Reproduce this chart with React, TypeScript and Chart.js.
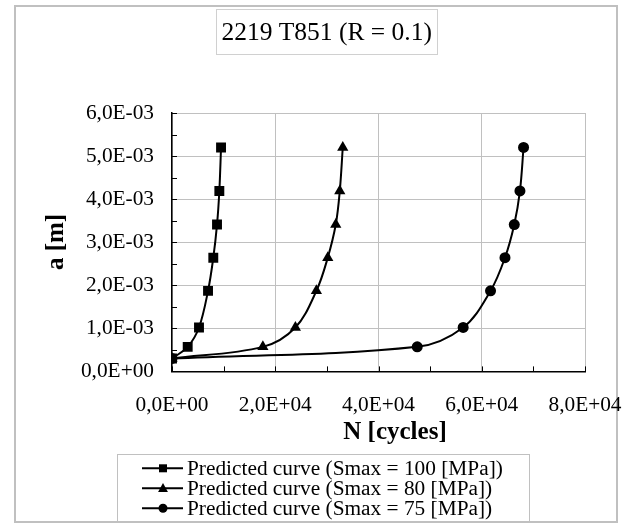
import React, { useEffect, useRef } from "react";
import { Chart, registerables } from "chart.js";

Chart.register(...registerables);

// ---- data ----
const titleText = "2219 T851 (R = 0.1)";
const xAxisTitle = "N [cycles]";
const yAxisTitle = "a [m]";
const seriesLabels = [
  "Predicted curve (Smax = 100 [MPa])",
  "Predicted curve (Smax = 80 [MPa])",
  "Predicted curve (Smax = 75 [MPa])",
];
const crackLength = [0.3e-3, 0.57e-3, 1.02e-3, 1.87e-3, 2.64e-3, 3.41e-3, 4.19e-3, 5.2e-3];
const cycles100 = [0, 3040, 5230, 6980, 8000, 8720, 9170, 9500];
const cycles80 = [0, 17600, 23900, 27970, 30170, 31720, 32500, 33080];
const cycles75 = [0, 47500, 56400, 61700, 64500, 66300, 67400, 68100];
const markerStyles = ["rect", "triangle", "circle"];
const markerRadii = [7, 6.5, 5.5];
const xRange = [0, 80000];
const xStep = 20000;
const xMinorStep = 10000;
const yRange = [0, 6e-3];
const yStep = 1e-3;
const yMinorStep = 0.5e-3;

const SERIF = "'Liberation Serif', 'Times New Roman', serif";

function sci(v: number): string {
  if (Math.abs(v) < 1e-12) return "0,0E+00";
  let e = Math.floor(Math.log10(Math.abs(v)) + 1e-9);
  let ms = (v / Math.pow(10, e)).toFixed(1);
  if (ms === "10.0") {
    e += 1;
    ms = (v / Math.pow(10, e)).toFixed(1);
  }
  const es = (e < 0 ? "-" : "+") + String(Math.abs(e)).padStart(2, "0");
  return ms.replace(".", ",") + "E" + es;
}

function drawMarker(ctx: CanvasRenderingContext2D, style: string, x: number, y: number, s: number) {
  ctx.beginPath();
  if (style === "rect") {
    ctx.rect(x - s / 2, y - s / 2, s, s);
  } else if (style === "triangle") {
    ctx.moveTo(x, y - s * 0.6);
    ctx.lineTo(x + s * 0.55, y + s * 0.4);
    ctx.lineTo(x - s * 0.55, y + s * 0.4);
    ctx.closePath();
  } else {
    ctx.arc(x, y, s / 2, 0, Math.PI * 2);
  }
  ctx.fill();
}

const decorPlugin = {
  id: "decor",
  beforeDraw(chart: any) {
    const ctx = chart.ctx as CanvasRenderingContext2D;
    ctx.save();
    ctx.fillStyle = "#ffffff";
    ctx.fillRect(0, 0, chart.width, chart.height);
    // outer frame
    ctx.strokeStyle = "#c0c0c0";
    ctx.lineWidth = 2;
    ctx.strokeRect(15, 6, 602, 516);
    // title box
    ctx.font = `25.5px ${SERIF}`;
    ctx.textAlign = "center";
    ctx.textBaseline = "middle";
    const tw = ctx.measureText(titleText).width;
    const tcx = 326.7;
    ctx.strokeStyle = "#d0d0d0";
    ctx.lineWidth = 1;
    ctx.strokeRect(Math.round(tcx - tw / 2 - 5) + 0.5, 9.5, Math.round(tw + 10), 45);
    ctx.fillStyle = "#000";
    ctx.fillText(titleText, tcx, 33);
    // axis titles
    ctx.font = `bold 25px ${SERIF}`;
    ctx.fillText(xAxisTitle, 395, 433);
    ctx.save();
    ctx.translate(57, 242);
    ctx.rotate(-Math.PI / 2);
    ctx.fillText(yAxisTitle, 0, 0);
    ctx.restore();
    // legend
    ctx.strokeStyle = "#c0c0c0";
    ctx.lineWidth = 1;
    ctx.strokeRect(117.5, 454.5, 412, 68);
    ctx.font = `21.33px ${SERIF}`;
    ctx.textAlign = "left";
    const rows = [468.3, 488.3, 508.3];
    const legendSizes = [8, 9, 9];
    seriesLabels.forEach((lbl, i) => {
      const y = rows[i];
      ctx.strokeStyle = "#000";
      ctx.lineWidth = 2;
      ctx.beginPath();
      ctx.moveTo(142, y);
      ctx.lineTo(183, y);
      ctx.stroke();
      ctx.fillStyle = "#000";
      drawMarker(ctx, markerStyles[i], 163, y, legendSizes[i]);
      ctx.fillText(lbl, 187, y + 1);
    });
    ctx.restore();
  },
  beforeDatasetsDraw(chart: any) {
    const ctx = chart.ctx as CanvasRenderingContext2D;
    const xs = chart.scales.x;
    const ys = chart.scales.y;
    const { left, bottom } = chart.chartArea;
    ctx.save();
    ctx.strokeStyle = "#000";
    ctx.lineWidth = 1;
    ctx.beginPath();
    const nx = Math.round((xRange[1] - xRange[0]) / xMinorStep);
    for (let i = 0; i <= nx; i++) {
      const px = Math.round(xs.getPixelForValue(xRange[0] + i * xMinorStep)) + 0.5;
      ctx.moveTo(px, bottom);
      ctx.lineTo(px, bottom - 5);
    }
    const ny = Math.round((yRange[1] - yRange[0]) / yMinorStep);
    for (let i = 0; i <= ny; i++) {
      const py = Math.round(ys.getPixelForValue(yRange[0] + i * yMinorStep)) + 0.5;
      ctx.moveTo(left, py);
      ctx.lineTo(left + 5, py);
    }
    ctx.stroke();
    ctx.restore();
  },
};

export default function App() {
  const ref = useRef<HTMLCanvasElement | null>(null);
  useEffect(() => {
    if (!ref.current) return;
    const seriesX = [cycles100, cycles80, cycles75];
    const datasets = seriesX.map((xs, i) => ({
      label: seriesLabels[i],
      data: xs.map((x, j) => ({ x, y: crackLength[j] })),
      showLine: true,
      borderColor: "#000",
      backgroundColor: "#000",
      borderWidth: 2,
      tension: 0.35,
      pointStyle: markerStyles[i] as any,
      pointRadius: markerRadii[i],
      pointBackgroundColor: "#000",
      pointBorderColor: "#000",
      pointBorderWidth: 0,
    }));
    const chart = new Chart(ref.current, {
      type: "scatter",
      data: { datasets },
      options: {
        animation: false,
        responsive: false,
        events: [],
        layout: { padding: { left: 15, right: 47, top: 113, bottom: 97.6 } },
        plugins: {
          legend: { display: false },
          title: { display: false },
          tooltip: { enabled: false },
        },
        scales: {
          x: {
            type: "linear",
            min: xRange[0],
            max: xRange[1],
            afterFit: (s: any) => {
              s.height = 60;
            },
            grid: {
              color: "#c0c0c0",
              lineWidth: 1,
              drawTicks: true,
              tickLength: 21,
              tickColor: "rgba(0,0,0,0)",
            },
            border: { color: "#000", width: 1.5 },
            ticks: {
              stepSize: xStep,
              padding: 0,
              color: "#000",
              font: { family: SERIF, size: 21.33 },
              maxRotation: 0,
              callback: (v: any) => sci(Number(v)),
            },
          },
          y: {
            type: "linear",
            min: yRange[0],
            max: yRange[1],
            afterFit: (s: any) => {
              s.width = 157;
            },
            grid: { color: "#c0c0c0", lineWidth: 1, drawTicks: false },
            border: { color: "#000", width: 1.5 },
            ticks: {
              stepSize: yStep,
              padding: 18,
              color: "#000",
              font: { family: SERIF, size: 21.33 },
              callback: (v: any) => sci(Number(v)),
            },
          },
        },
      },
      plugins: [decorPlugin],
    });
    return () => chart.destroy();
  }, []);
  return (
    <div style={{ position: "absolute", left: 0, top: 0, width: 632, height: 529 }}>
      <canvas ref={ref} width={632} height={529} style={{ display: "block" }} />
    </div>
  );
}
